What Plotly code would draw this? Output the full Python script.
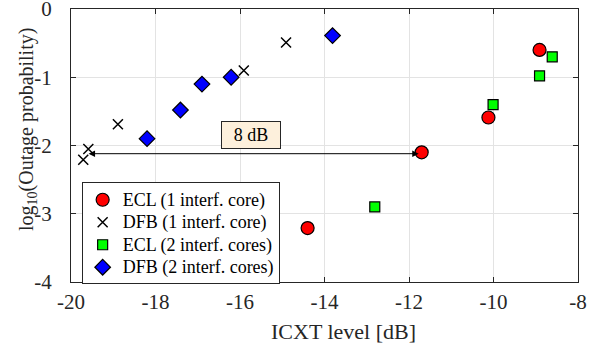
import plotly.graph_objects as go

ecl1_x = [-14.4, -11.7, -10.12, -8.91]
ecl1_y = [-3.21, -2.10, -1.59, -0.60]
dfb1_x = [-19.71, -19.59, -18.89, -15.91, -14.91]
dfb1_y = [-2.21, -2.05, -1.69, -0.90, -0.49]
ecl2_x = [-12.81, -10.01, -8.91, -8.61]
ecl2_y = [-2.90, -1.40, -0.98, -0.70]
dfb2_x = [-18.20, -17.41, -16.90, -16.21, -13.81]
dfb2_y = [-1.90, -1.48, -1.10, -1.00, -0.39]
names = ["ECL (1 interf. core)", "DFB (1 interf. core)", "ECL (2 interf. cores)", "DFB (2 interf. cores)"]
arrow_x = [-19.62, -11.77]
arrow_y = -2.12
label_pos = (-15.73, -1.84)
x_ticks = [-20, -18, -16, -14, -12, -10, -8]
y_ticks = [0, -1, -2, -3, -4]

FONT = "Liberation Serif"
DARK = "#262626"


def lname(s):
    return '<span style="font-size:18px">' + s + '</span>'


fig = go.Figure()
fig.add_trace(go.Scatter(x=ecl1_x, y=ecl1_y, mode="markers", name=lname(names[0]),
    marker=dict(symbol="circle", size=13, color="#ff0000", line=dict(color="black", width=1.2))))
fig.add_trace(go.Scatter(x=dfb1_x, y=dfb1_y, mode="markers", name=lname(names[1]),
    marker=dict(symbol="x-thin", size=10, color="black", line=dict(color="black", width=1.5))))
fig.add_trace(go.Scatter(x=ecl2_x, y=ecl2_y, mode="markers", name=lname(names[2]),
    marker=dict(symbol="square", size=10, color="#00ff00", line=dict(color="black", width=1.2))))
fig.add_trace(go.Scatter(x=dfb2_x, y=dfb2_y, mode="markers", name=lname(names[3]),
    marker=dict(symbol="diamond", size=12, color="#0000ff", line=dict(color="black", width=1.2))))

fig.add_annotation(x=arrow_x[1], y=arrow_y, ax=arrow_x[0], ay=arrow_y, xref="x", yref="y",
    axref="x", ayref="y", text="", showarrow=True, arrowhead=2, arrowside="end+start",
    arrowsize=1.3, arrowwidth=1, arrowcolor="black")
fig.add_annotation(x=label_pos[0], y=label_pos[1], xref="x", yref="y", text="8 dB", showarrow=False,
    bgcolor="#fdf0dc", bordercolor=DARK, borderwidth=1, borderpad=3, width=52, height=20,
    font=dict(family=FONT, size=18, color="black"))
# axis titles (placed as in the reference, slightly off-centre)
fig.add_annotation(xref="paper", yref="paper", x=0.538, y=-0.183, xanchor="center", yanchor="middle",
    text="ICXT level [dB]", showarrow=False, font=dict(family=FONT, size=22, color=DARK))
fig.add_annotation(xref="paper", yref="paper", x=-0.087, y=0.56, xanchor="center", yanchor="middle",
    text="log<sub>10</sub>(Outage probability)", textangle=-90, showarrow=False,
    font=dict(family=FONT, size=20, color=DARK))

axis_common = dict(showgrid=True, gridcolor="#e3e3e3", gridwidth=1, zeroline=False,
    showline=True, linecolor=DARK, linewidth=1, mirror="ticks", ticks="inside",
    ticklen=5, tickcolor=DARK, tickfont=dict(family=FONT, size=21, color=DARK),
    ticklabeloverflow="allow", automargin=False)
fig.update_xaxes(range=[-20, -8], tickvals=x_ticks, ticktext=[str(v) for v in x_ticks],
    ticklabelstandoff=1, **axis_common)
fig.update_yaxes(range=[-4, 0], tickvals=y_ticks, ticktext=[str(v) for v in y_ticks],
    ticklabelstandoff=14, **axis_common)
fig.update_layout(width=589, height=348, margin=dict(l=71, r=11, t=9, b=66, autoexpand=False),
    plot_bgcolor="white", paper_bgcolor="white",
    legend=dict(x=0.021, y=0.3645, xanchor="left", yanchor="top", bgcolor="white",
        bordercolor=DARK, borderwidth=1, font=dict(family=FONT, size=15, color="black"),
        tracegroupgap=0, itemwidth=30))
fig.write_html("out.html", config={"displayModeBar": False},
    post_script="document.body.style.margin='0';document.body.style.padding='0';")
